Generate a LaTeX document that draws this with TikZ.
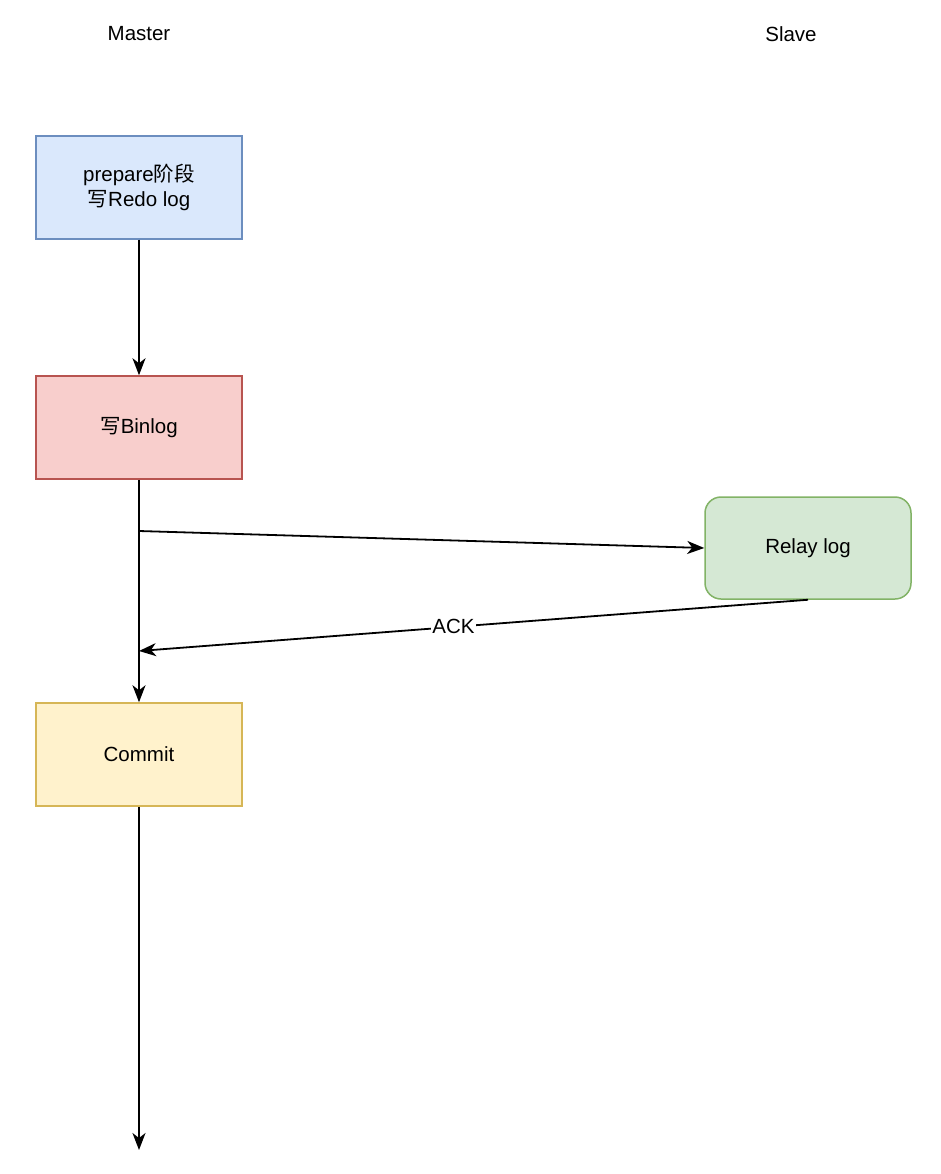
\documentclass[tikz,border=0pt]{standalone}
\usepackage{fontspec}
\setmainfont{Liberation Sans}
\newfontfamily\cjk{Noto Sans CJK SC}
\usetikzlibrary{arrows.meta}
\definecolor{bluefill}{HTML}{DAE8FC}\definecolor{bluedraw}{HTML}{6C8EBF}
\definecolor{redfill}{HTML}{F8CECC}\definecolor{reddraw}{HTML}{B85450}
\definecolor{greenfill}{HTML}{D5E8D4}\definecolor{greendraw}{HTML}{82B366}
\definecolor{yellowfill}{HTML}{FFF2CC}\definecolor{yellowdraw}{HTML}{D6B656}
\tikzset{
  box/.style={draw, line width=1.5pt, minimum width=206pt, minimum height=103pt, align=center, inner sep=0pt,
    font=\fontsize{20.5}{25}\selectfont},
  lbl/.style={font=\fontsize{20.5}{25}\selectfont},
  conn/.style={draw, line width=1.8pt, -{Stealth[length=17pt,width=13pt,inset=5pt]}},
}
\begin{document}
\begin{tikzpicture}[x=1pt,y=-1pt]
\useasboundingbox (0,0) rectangle (940,1174);
\fill[white] (0,0) rectangle (940,1174);
\node[lbl] (master) at (139,34) {Master};
\node[lbl] (slave) at (791,34) {Slave};
\node[box, fill=bluefill, draw=bluedraw] (prep) at (139,187.5) {\raisebox{-3pt}{\shortstack{prepare{\cjk 阶段}\\[1pt]{\cjk 写}Redo log}}};
\node[box, fill=redfill, draw=reddraw] (binlog) at (139,427.5) {{\cjk 写}Binlog};
\node[box, fill=greenfill, draw=greendraw, rounded corners=16pt, minimum width=206pt, minimum height=102pt] (relay) at (808,548) {Relay log};
\node[box, fill=yellowfill, draw=yellowdraw] (commit) at (139,754.5) {Commit};
\coordinate (send) at (139,531);
\coordinate (ackend) at (139,651);
\coordinate (end) at (139,1150);
\draw[conn] (prep.south) -- (binlog.north);
\draw[conn] (binlog.south) -- (commit.north);
\draw[conn] (commit.south) -- (end);
\draw[conn] (send) -- (relay.west);
\draw[conn] (relay.south) -- node[pos=0.53, fill=white, inner sep=1pt, lbl] (ack) {ACK} (ackend);
\end{tikzpicture}
\end{document}
